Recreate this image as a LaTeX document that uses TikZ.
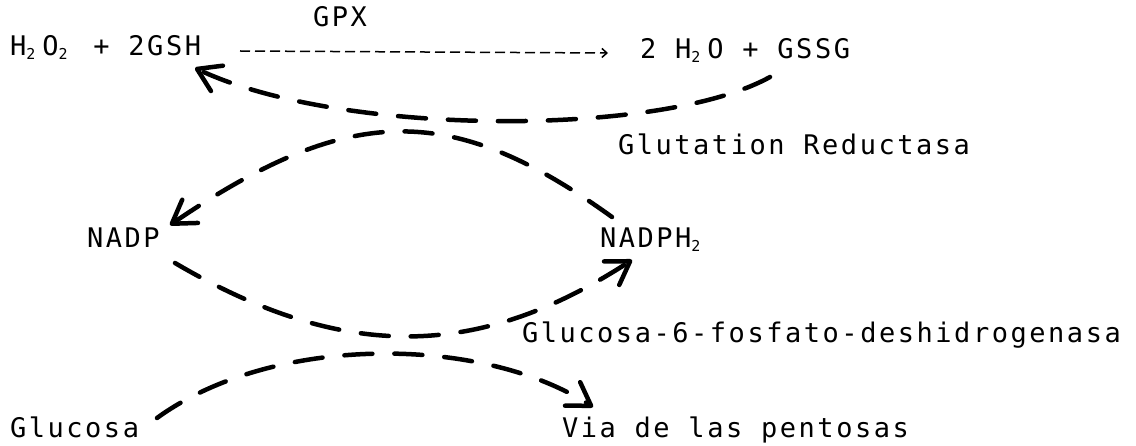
\documentclass[tikz,border=0pt]{standalone}
\usepackage{fontspec}
\usetikzlibrary{arrows.meta}
\newfontfamily\pf[LetterSpace=9.4]{DejaVu Sans Mono}
\newcommand\sbtwo{\raisebox{-4pt}{\fontsize{15pt}{15pt}\selectfont 2}\hspace{7pt}}
\newcommand\cs{\hspace{18.8pt}}
\begin{document}
\begin{tikzpicture}[x=1pt,y=-1pt,
  txt/.style={inner sep=0pt, outer sep=0pt, anchor=base west, font=\pf\fontsize{27pt}{30pt}\selectfont},
  flow/.style={line width=4.5pt, line cap=round, dash pattern=on 28pt off 22pt,
    -{Straight Barb[length=22pt,width=28pt,round]}},
  react/.style={line width=1.5pt, dash pattern=on 10pt off 5pt,
    -{Straight Barb[length=5pt,width=9pt]}}]
\useasboundingbox (0,0) rectangle (1136,446);
% texts
\node[txt] (lhs) at (10,56) {H\sbtwo O\sbtwo\cs+\cs 2GSH};
\node[txt] (gpx) at (313,27) {GPX};
\node[txt] (rhs) at (640,59) {2\cs H\sbtwo O\cs+\cs GSSG};
\node[txt] (gr) at (618,155) {Glutation\cs Reductasa};
\node[txt] (nadp) at (87,248) {NADP};
\node[txt] (nadph) at (600,248) {NADPH\sbtwo};
\node[txt] (g6pd) at (522,343) {Glucosa-6-fosfato-deshidrogenasa};
\node[txt] (glu) at (10,438) {Glucosa};
\node[txt] (via) at (562,438) {Via\cs de\cs las\cs pentosas};
% connector ends
\coordinate (r1) at (240,51);
\coordinate (r2) at (608,53);
\coordinate (a0) at (770,77);
\coordinate (a1) at (195,68);
\coordinate (b0) at (612,217);
\coordinate (b1) at (170,225);
\coordinate (c0) at (175,263);
\coordinate (c1) at (632,260);
\coordinate (d0) at (157,418);
\coordinate (d1) at (593,407);
% connectors
\draw[react] (r1) -- (r2);
\draw[flow] (a0) .. controls (662,137) and (341,137) .. (a1);
\draw[flow] (b0) .. controls (452,102) and (351,102) .. (b1);
\draw[flow] (c0) .. controls (342,361) and (476,361) .. (c1);
\draw[flow] (d0) .. controls (272,334.5) and (480,334.5) .. (d1);
\end{tikzpicture}
\end{document}
